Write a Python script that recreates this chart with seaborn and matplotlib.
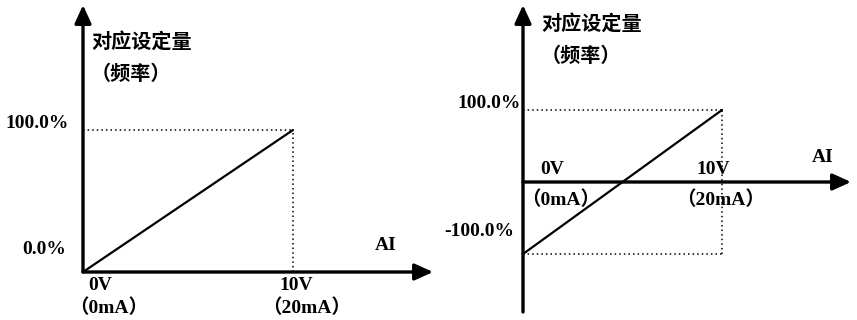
import numpy as np
import pandas as pd
import seaborn as sns
import matplotlib
matplotlib.use('Agg')
from matplotlib import pyplot as plt

# data
voltage = [0, 10]                 # V (0mA .. 20mA)
unipolar_pct = [0, 100]           # left panel
bipolar_pct = [-100, 100]         # right panel

y_title = '对应设定量'
y_sub = '（频率）'
x_name = 'AI'
left_ylabels = ['100.0%', '0.0%']
right_ylabels = ['100.0%', '-100.0%']
x_lo = ['0V', '（0mA）']
x_hi = ['10V', '（20mA）']

sns.set_style('white')
plt.rcParams['font.family'] = ['Liberation Serif', 'Noto Sans CJK SC']

W, H = 857, 320
f = plt.figure(figsize=(W / 100, H / 100), dpi=100)


def panel(px0, px1, ox, oy, sx, sy):
    # axes spanning pixel columns px0..px1, origin at pixel (ox, oy)
    ax = f.add_axes([px0 / W, 0, (px1 - px0) / W, 1])
    ax.set_xlim((px0 - ox) / sx, (px1 - ox) / sx)
    ax.set_ylim((oy - H) / sy, oy / sy)
    ax.axis('off')
    ax.patch.set_alpha(0)
    return ax


def arrow(ax, start, tip):
    ax.annotate('', xy=tip, xytext=start,
                arrowprops=dict(arrowstyle='-|>,head_length=0.55,head_width=0.25',
                                lw=2.4, color='k', mutation_scale=20,
                                shrinkA=0, shrinkB=0))


def label(x, y, s, ha='left', size=14):
    f.text(x / W, 1 - y / H, s, ha=ha, va='center', fontsize=size,
           fontweight='heavy', color='k')


dot = (0, (1, 2))

# left panel
ax1 = panel(0, 445, 83, 272, 21.0, 1.42)
df1 = pd.DataFrame({'AI': voltage, 'pct': unipolar_pct})
sns.lineplot(data=df1, x='AI', y='pct', ax=ax1, color='k', lw=1.6)
ax1.plot([0, voltage[1]], [unipolar_pct[1]] * 2, ls=dot, color='k', lw=1.1)
ax1.plot([voltage[1]] * 2, [0, unipolar_pct[1]], ls=dot, color='k', lw=1.1)
arrow(ax1, (0, 0), ((433 - 83) / 21.0, 0))
arrow(ax1, (0, 0), (0, (272 - 5) / 1.42))

label(91, 43, y_title, size=14.5)
label(91, 75, y_sub, size=14.5)
label(69, 124, left_ylabels[0], ha='right')
label(66, 250, left_ylabels[1], ha='right')
label(375, 245, x_name)
label(88, 285, x_lo[0])
label(109, 308, x_lo[1], ha='center')
label(296, 285, x_hi[0], ha='center')
label(307, 308, x_hi[1], ha='center')

# right panel
ax2 = panel(430, 857, 523, 182, 19.9, 0.72)
df2 = pd.DataFrame({'AI': voltage, 'pct': bipolar_pct})
sns.lineplot(data=df2, x='AI', y='pct', ax=ax2, color='k', lw=1.6)
for v in bipolar_pct:
    ax2.plot([0, voltage[1]], [v, v], ls=dot, color='k', lw=1.1)
ax2.plot([voltage[1]] * 2, bipolar_pct, ls=dot, color='k', lw=1.1)
arrow(ax2, (0, 0), ((851 - 523) / 19.9, 0))
arrow(ax2, (0, (182 - 312) / 0.72), (0, (182 - 5) / 0.72))

label(541, 25, y_title, size=14.5)
label(541, 57, y_sub, size=14.5)
label(521, 103, right_ylabels[0], ha='right')
label(514, 232, right_ylabels[1], ha='right')
label(812, 157, x_name)
label(540, 170, x_lo[0])
label(561, 200, x_lo[1], ha='center')
label(713, 170, x_hi[0], ha='center')
label(721, 200, x_hi[1], ha='center')

f.savefig('out.png', dpi=100)
